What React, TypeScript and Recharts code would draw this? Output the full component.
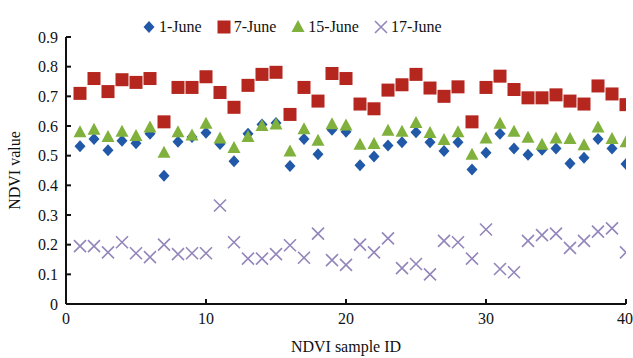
import React from 'react';
import { ScatterChart, Scatter, XAxis, YAxis, Legend } from 'recharts';

// NDVI per sample on the four survey dates
const sampleIds = [
  1, 2, 3, 4, 5, 6, 7, 8, 9, 10, 11, 12, 13, 14, 15, 16, 17, 18, 19, 20,
  21, 22, 23, 24, 25, 26, 27, 28, 29, 30, 31, 32, 33, 34, 35, 36, 37, 38, 39, 40,
];
const june1 = [
  0.532, 0.556, 0.518, 0.55, 0.542, 0.574, 0.432, 0.547, 0.563, 0.577,
  0.539, 0.481, 0.574, 0.605, 0.61, 0.465, 0.556, 0.505, 0.587, 0.581,
  0.468, 0.497, 0.534, 0.545, 0.579, 0.545, 0.516, 0.545, 0.453, 0.51,
  0.574, 0.524, 0.503, 0.52, 0.524, 0.474, 0.493, 0.556, 0.524, 0.472,
];
const june7 = [
  0.71, 0.76, 0.716, 0.756, 0.747, 0.76, 0.614, 0.73, 0.73, 0.766,
  0.713, 0.663, 0.737, 0.774, 0.781, 0.639, 0.73, 0.684, 0.777, 0.76,
  0.674, 0.658, 0.721, 0.739, 0.774, 0.728, 0.7, 0.732, 0.614, 0.73,
  0.768, 0.723, 0.695, 0.695, 0.705, 0.684, 0.674, 0.735, 0.708, 0.672,
];
const june15 = [
  0.579, 0.587, 0.563, 0.581, 0.566, 0.595, 0.51, 0.579, 0.568, 0.608,
  0.558, 0.526, 0.563, 0.6, 0.605, 0.514, 0.589, 0.55, 0.606, 0.602,
  0.537, 0.539, 0.584, 0.581, 0.61, 0.576, 0.553, 0.579, 0.503, 0.558,
  0.608, 0.581, 0.56, 0.537, 0.558, 0.556, 0.535, 0.595, 0.556, 0.545,
];
const june17 = [
  0.195, 0.195, 0.174, 0.208, 0.171, 0.158, 0.2, 0.168, 0.171, 0.171,
  0.332, 0.208, 0.153, 0.153, 0.168, 0.198, 0.156, 0.237, 0.148, 0.132,
  0.2, 0.174, 0.221, 0.121, 0.135, 0.1, 0.213, 0.208, 0.153, 0.251,
  0.118, 0.107, 0.213, 0.232, 0.237, 0.189, 0.213, 0.244, 0.255, 0.174,
];
const seriesNames = ['1-June', '7-June', '15-June', '17-June'];
const xTicks = [0, 10, 20, 30, 40];
const yTicks = [0, 0.1, 0.2, 0.3, 0.4, 0.5, 0.6, 0.7, 0.8, 0.9];

const FONT = '"Liberation Serif", "Times New Roman", serif';
const BLUE = '#2159a8';
const RED = '#b5261f';
const GREEN = '#7fb13c';
const PURPLE = '#9486bb';

const toPoints = (vals: number[]) => sampleIds.map((id, i) => ({ id, v: vals[i] }));

const Diamond = ({ cx, cy }: any) => (
  <path d={`M${cx},${cy - 6}L${cx + 5.5},${cy}L${cx},${cy + 6}L${cx - 5.5},${cy}Z`} fill={BLUE} />
);
const Square = ({ cx, cy }: any) => (
  <rect x={cx - 6.5} y={cy - 6.5} width={13} height={13} fill={RED} />
);
const Triangle = ({ cx, cy }: any) => (
  <path d={`M${cx},${cy - 7}L${cx + 6.5},${cy + 5}L${cx - 6.5},${cy + 5}Z`} fill={GREEN} />
);
const Cross = ({ cx, cy }: any) => (
  <path
    d={`M${cx - 6},${cy - 6}L${cx + 6},${cy + 6}M${cx - 6},${cy + 6}L${cx + 6},${cy - 6}`}
    stroke={PURPLE}
    strokeWidth={1.6}
    fill="none"
  />
);

const legendIcons = [
  <Diamond cx={8} cy={9} />,
  <Square cx={8} cy={9} />,
  <Triangle cx={8} cy={9} />,
  <Cross cx={8} cy={9} />,
];

const LegendRow = () => (
  <div style={{ display: 'flex', alignItems: 'center', fontFamily: FONT, fontSize: 16, color: '#111' }}>
    {seriesNames.map((name, i) => (
      <div key={name} style={{ display: 'flex', alignItems: 'center', marginRight: 14 }}>
        <svg width={16} height={18} style={{ marginRight: 2 }}>
          {legendIcons[i]}
        </svg>
        <span>{name}</span>
      </div>
    ))}
  </div>
);

const tickStyle = { fontFamily: FONT, fontSize: 16, fill: '#111' };

export default function App() {
  return (
    <div style={{ position: 'absolute', left: 0, top: 0, background: '#fff', fontFamily: FONT }}>
      <ScatterChart
        width={633}
        height={358}
        margin={{ top: 19, right: 7, bottom: 0, left: 0 }}
        style={{ fontFamily: FONT }}
      >
        <XAxis
          type="number"
          dataKey="id"
          domain={[0, 40]}
          ticks={xTicks}
          allowDataOverflow
          stroke="#111"
          strokeWidth={2}
          tickSize={-5}
          tickMargin={14}
          tick={tickStyle}
          height={54}
          label={{ value: 'NDVI sample ID', position: 'insideBottom', offset: 6, style: { ...tickStyle, textAnchor: 'middle' } }}
        />
        <YAxis
          type="number"
          dataKey="v"
          domain={[0, 0.9]}
          ticks={yTicks}
          allowDataOverflow
          stroke="#111"
          strokeWidth={2}
          tickSize={-5}
          tickMargin={13}
          tick={tickStyle}
          width={66}
          tickFormatter={(v: number) => (v === 0 ? '0' : v.toFixed(1))}
          label={{ value: 'NDVI value', angle: -90, position: 'insideLeft', offset: 14, style: { ...tickStyle, textAnchor: 'middle' } }}
        />
        <Legend
          verticalAlign="top"
          content={() => <LegendRow />}
          wrapperStyle={{ position: 'absolute', top: 18, left: 141, width: 330 }}
        />
        <Scatter name={seriesNames[0]} data={toPoints(june1)} shape={Diamond} isAnimationActive={false} />
        <Scatter name={seriesNames[1]} data={toPoints(june7)} shape={Square} isAnimationActive={false} />
        <Scatter name={seriesNames[2]} data={toPoints(june15)} shape={Triangle} isAnimationActive={false} />
        <Scatter name={seriesNames[3]} data={toPoints(june17)} shape={Cross} isAnimationActive={false} />
      </ScatterChart>
    </div>
  );
}
